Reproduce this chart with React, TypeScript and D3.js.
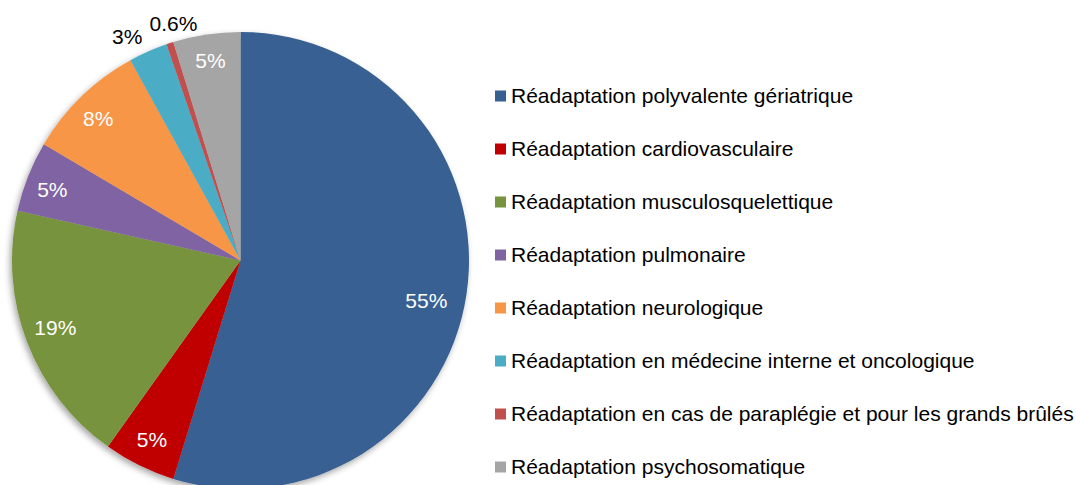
import React from "react";
import * as d3 from "d3";

const categories = [
  "Réadaptation polyvalente gériatrique",
  "Réadaptation cardiovasculaire",
  "Réadaptation musculosquelettique",
  "Réadaptation pulmonaire",
  "Réadaptation neurologique",
  "Réadaptation en médecine interne et oncologique",
  "Réadaptation en cas de paraplégie et pour les grands brûlés",
  "Réadaptation psychosomatique",
];
const values = [54.75, 5.1, 18.65, 5.0, 8.5, 2.75, 0.5, 4.75];
const labels = ["55%", "5%", "19%", "5%", "8%", "3%", "0.6%", "5%"];
const colors = ["#376092", "#C00000", "#77933C", "#8064A2", "#F79646", "#4BACC6", "#C0504D", "#A5A5A5"];
const outside = [false, false, false, false, false, true, true, false];

export default function App() {
  const W = 1076, H = 485;
  const cx = 240.5, cy = 260.5, r = 228.5;
  const pie = d3.pie<number>().sort(null).value((d) => d)(values);
  const arc = d3.arc<d3.PieArcDatum<number>>().innerRadius(0).outerRadius(r);
  // label placement: radius and small angular nudge (degrees), like Excel's best-fit
  const labelR = [190, 200, 197, 201, 201, 251, 246, 202];
  const labelNudge = [3.5, 0, 1, -1, -1, -3, 2.2, 0];
  const labelPos = (d: d3.PieArcDatum<number>, i: number) => {
    const a = (d.startAngle + d.endAngle) / 2 + (labelNudge[i] * Math.PI) / 180;
    return [Math.sin(a) * labelR[i], -Math.cos(a) * labelR[i]];
  };
  const legendY = d3.scalePoint<number>().domain(d3.range(categories.length)).range([96, 467]);
  return (
    <svg width={W} height={H} style={{ position: "absolute", left: 0, top: 0 }} fontFamily="'Liberation Sans', Arial, sans-serif">
      <defs>
        <filter id="sh" x="-10%" y="-10%" width="120%" height="120%">
          <feDropShadow dx="-2" dy="3" stdDeviation="3" floodColor="#000" floodOpacity="0.35" />
        </filter>
      </defs>
      <g transform={`translate(${cx},${cy})`}>
        <g filter="url(#sh)">
          {pie.map((d, i) => (
            <path key={i} d={arc(d) || ""} fill={colors[i]} />
          ))}
        </g>
        {pie.map((d, i) => {
          const [x, y] = labelPos(d, i);
          return (
            <text key={i} x={x} y={y} dy="0.35em" textAnchor="middle" fontSize={21} fill={outside[i] ? "#000" : "#fff"}>
              {labels[i]}
            </text>
          );
        })}
      </g>
      {categories.map((c, i) => (
        <g key={i} transform={`translate(495,${legendY(i)})`}>
          <rect x={0} y={-5.5} width={11} height={11} fill={colors[i]} />
          <text x={16} y={0} dy="0.35em" fontSize={21} fill="#000">{c}</text>
        </g>
      ))}
    </svg>
  );
}
